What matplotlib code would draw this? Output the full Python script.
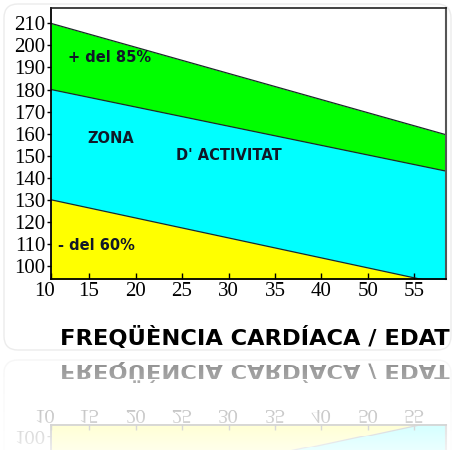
import numpy as np
import matplotlib
matplotlib.use("Agg")
import matplotlib.pyplot as plt
from matplotlib.patches import FancyBboxPatch
from matplotlib.transforms import ScaledTranslation

# x axis: evenly spaced age labels (the chart skips 45)
ages = [10, 15, 20, 25, 30, 35, 40, 50, 55]
x_band = [0.18, 8.68]          # start / end of the drawn bands on the tick scale
upper_85 = [210, 159.5]        # + del 85%
middle_line = [180, 143]       # upper limit of the activity zone
lower_60 = [130, 91.5]         # - del 60%
yticks = list(range(100, 211, 10))

fig = plt.figure(figsize=(4.55, 4.5), dpi=100, facecolor="white")
ax = fig.add_axes([51 / 455, 1 - 278.5 / 450, 395 / 455, 271 / 450])

floor = 80
ax.fill_between(x_band, middle_line, upper_85, color="#00ff00", lw=0)
ax.fill_between(x_band, lower_60, middle_line, color="#00ffff", lw=0)
ax.fill_between(x_band, floor, lower_60, color="#ffff00", lw=0)
for line in (upper_85, middle_line, lower_60):
    ax.plot(x_band, line, color="#1c2a2a", lw=0.9)

ax.set_xlim(0.18, 8.68)
ax.set_ylim(94.3, 217.2)

xt = [0.18] + list(range(1, len(ages)))
ax.set_xticks(xt)
ax.set_xticklabels([str(a) for a in ages])
ax.set_yticks(yticks)
ax.set_yticklabels([str(v) for v in yticks])

serif = "Liberation Serif"
ax.tick_params(axis="x", direction="in", length=4, width=1, pad=2.5,
               labelsize=15)
ax.tick_params(axis="y", direction="out", length=3, width=1, pad=1,
               labelsize=15)
for lab in ax.get_xticklabels() + ax.get_yticklabels():
    lab.set_fontfamily(serif)
first = ax.get_xticklabels()[0]
first.set_transform(first.get_transform() + ScaledTranslation(-6 / 100, 0, fig.dpi_scale_trans))

for side in ("left", "bottom"):
    ax.spines[side].set_linewidth(1.3)
    ax.spines[side].set_color("black")
ax.spines["top"].set_linewidth(1.2)
ax.spines["top"].set_color("#222222")
ax.spines["right"].set_linewidth(1.5)
ax.spines["right"].set_color("#555555")

lab_kw = dict(fontweight="bold", color="#101828",
              family="DejaVu Sans", ha="left", va="center")
ax.text(0.55, 194.7, "+ del 85%", fontsize=10.5, **lab_kw)
ax.text(0.96, 158, "ZONA", fontsize=10.5, **lab_kw)
ax.text(2.88, 150.2, "D' ACTIVITAT", fontsize=10.5, **lab_kw)
ax.text(0.33, 109.4, "- del 60%", fontsize=10.5, **lab_kw)

fig.text(254.5 / 455, 1 - 338 / 450, "FREQÜÈNCIA CARDÍACA / EDAT",
         ha="center", va="center", fontsize=16.2, fontweight="bold",
         family="DejaVu Sans", color="black")

# faint rounded frame
frame = FancyBboxPatch((0.04, 1.0), 4.47, 3.46,
                       boxstyle="round,pad=0,rounding_size=0.14",
                       transform=fig.dpi_scale_trans, fc="none",
                       ec="#ececec", lw=1.0, zorder=-1)
fig.patches.append(frame)

# mirrored, fading reflection under the title
fig.canvas.draw()
img = np.asarray(fig.canvas.buffer_rgba())[..., :3].astype(float) / 255
H = img.shape[0]
mirror = 355
n = H - mirror
rows = mirror - 1 - (np.arange(n) / 0.92).astype(int)
refl = img[rows]
t = np.linspace(0, 1, n)
alpha = (0.48 - 0.40 * t ** 0.8)[:, None, None]
refl = 1 - alpha * (1 - refl)
fig.figimage(refl, xo=0, yo=0, origin="upper", zorder=2)

fig.savefig("out.png", dpi=100)
